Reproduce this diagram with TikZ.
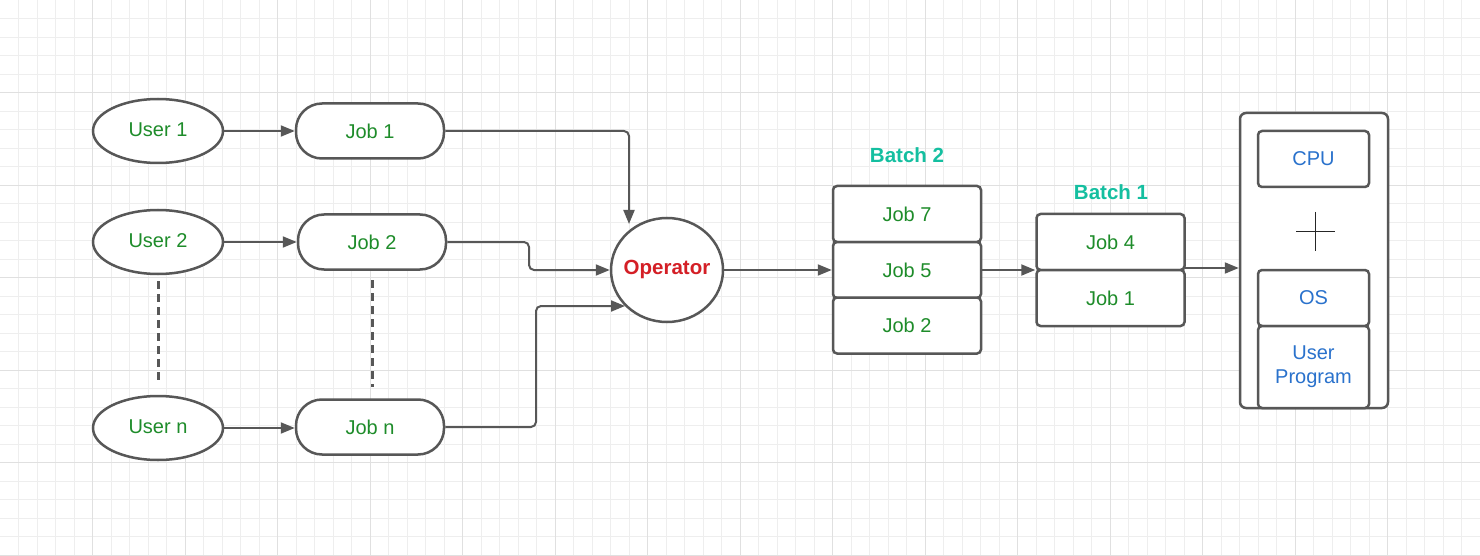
\documentclass[tikz,border=0pt]{standalone}
\usepackage{fontspec}
\setmainfont{Liberation Sans}
\usetikzlibrary{arrows.meta,shapes.geometric}
\definecolor{edge}{HTML}{575757}
\definecolor{gtext}{HTML}{1E8C2A}
\definecolor{teal}{HTML}{14BFA0}
\definecolor{optext}{HTML}{D41F26}
\definecolor{btext}{HTML}{2A72CC}
\definecolor{gminor}{HTML}{EEEEEE}
\definecolor{gmajor}{HTML}{E0E0E0}
\tikzset{
  usernode/.style={ellipse,draw=edge,line width=2.5pt,fill=white,minimum width=130pt,minimum height=64pt,inner sep=0pt,text=gtext,font=\fontsize{20}{23}\selectfont},
  pill/.style={rectangle,rounded corners=26pt,draw=edge,line width=2.5pt,fill=white,minimum width=148pt,minimum height=55pt,inner sep=0pt,text=gtext,font=\fontsize{20}{23}\selectfont},
  jobbox/.style={rectangle,rounded corners=4pt,draw=edge,line width=2.5pt,fill=white,minimum width=148pt,minimum height=56pt,inner sep=0pt,text=gtext,font=\fontsize{20}{23}\selectfont},
  sysbox/.style={rectangle,rounded corners=4pt,draw=edge,line width=2.5pt,fill=white,minimum width=111pt,inner sep=0pt,text=btext,font=\fontsize{20}{24}\selectfont,align=center},
  conn/.style={draw=edge,line width=2pt,rounded corners=5pt,-{Triangle[length=14pt,width=11pt]}},
  dashline/.style={draw=edge,line width=3pt,dash pattern=on 8pt off 5pt},
  batchlabel/.style={text=teal,font=\bfseries\fontsize{20.5}{23}\selectfont},
}
\begin{document}
\begin{tikzpicture}[x=1pt,y=-1pt]
\fill[white] (0,0) rectangle (1480,556);
\useasboundingbox (0,0) rectangle (1480,556);
% grid
\foreach \i in {1,...,80} {\draw[gminor,line width=0.8pt] (\i*18.5,0) -- (\i*18.5,556);}
\foreach \j in {1,...,30} {\draw[gminor,line width=0.8pt] (0,\j*18.5) -- (1480,\j*18.5);}
\foreach \i in {1,...,16} {\draw[gmajor,line width=0.9pt] (\i*92.5,0) -- (\i*92.5,556);}
\foreach \j in {1,...,6} {\draw[gmajor,line width=0.9pt] (0,\j*92.5) -- (1480,\j*92.5);}

% users
\node[usernode] (u1) at (158,131) {\raisebox{3pt}{User 1}};
\node[usernode] (u2) at (158,242) {\raisebox{3pt}{User 2}};
\node[usernode] (un) at (158,428) {\raisebox{3pt}{User n}};
% jobs
\node[pill] (j1) at (370,131) {Job 1};
\node[pill] (j2) at (372,242) {Job 2};
\node[pill] (jn) at (370,427) {Job n};
% operator
\node[ellipse,draw=edge,line width=2.5pt,fill=white,minimum width=112pt,minimum height=104pt,inner sep=0pt] (op) at (667,270) {};
\node[text=optext,font=\bfseries\fontsize{20.5}{23}\selectfont,inner sep=0pt] (optxt) at (667,269) {Operator};
% batch 2
\node[jobbox] (b7) at (907,214) {Job 7};
\node[jobbox] (b5) at (907,270) {Job 5};
\node[jobbox] (b2) at (907,325.5) {Job 2};
\node[batchlabel] (l2) at (907,155) {Batch 2};
% batch 1
\node[jobbox] (b4) at (1110.5,242) {Job 4};
\node[jobbox] (b1) at (1110.5,298) {Job 1};
\node[batchlabel] (l1) at (1111,192) {Batch 1};
% system
\node[rectangle,rounded corners=6pt,draw=edge,line width=2.5pt,fill=white,minimum width=148pt,minimum height=295pt,inner sep=0pt] (sys) at (1314,260.5) {};
\node[sysbox,minimum height=56pt] (cpu) at (1313.5,159) {CPU};
\node[sysbox,minimum height=56pt] (os) at (1313.5,298) {OS};
\node[sysbox,minimum height=82pt] (up) at (1313.5,367) {User\\Program};
\draw[black!85,line width=1.5pt] (1296,231.5) -- (1335,231.5);
\draw[black!85,line width=1.5pt] (1315.5,212) -- (1315.5,251);

% dashed
\draw[dashline] (158,281) coordinate (d1a) -- (158,381) coordinate (d1b);
\draw[dashline] (372,280) coordinate (d2a) -- (372,387) coordinate (d2b);

% connectors
\draw[conn] (u1.east) -- (j1.west);
\draw[conn] (u2.east) -- (j2.west |- u2.east);
\draw[conn] (un.east) -- (jn.west |- un.east);
\coordinate (opt) at (629,224);
\draw[conn] (j1.east) -- (629,131) -- (opt);
\draw[conn] (j2.east) -- (529,242) -- (529,270) -- (op.west);
\coordinate (opl) at (625,306);
\draw[conn] (jn.east) -- (536,427) -- (536,306) -- (opl);
\draw[conn] (op.east) -- (b5.west);
\draw[conn] (b5.east) -- (b5.east -| b4.west);
\coordinate (s1) at (1185,268);
\draw[conn] (s1) -- (s1 -| sys.west);
\end{tikzpicture}
\end{document}
